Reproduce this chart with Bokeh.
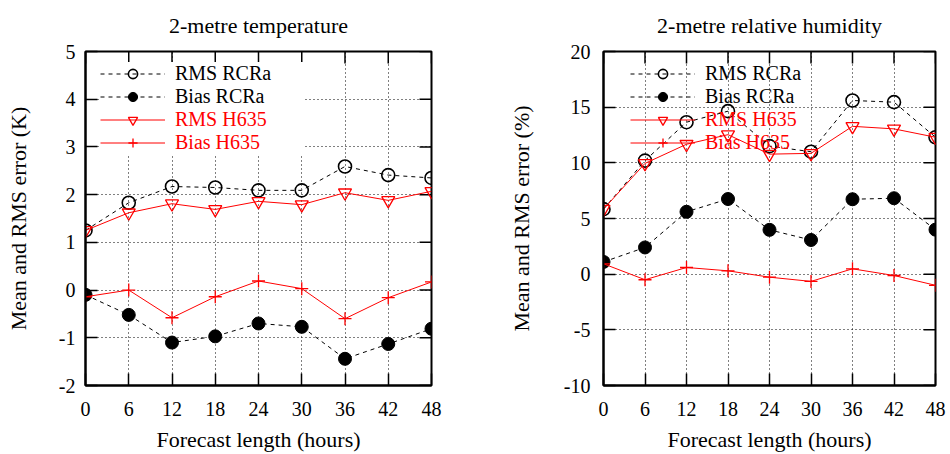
import math
from bokeh.plotting import figure
from bokeh.models import Range1d, FixedTicker, Legend, LegendItem
from bokeh.layouts import row
from bokeh.embed import file_html
from bokeh.resources import INLINE

# ---------------- data ----------------
hours = [0, 6, 12, 18, 24, 30, 36, 42, 48]
x_ticks = [0, 6, 12, 18, 24, 30, 36, 42, 48]
x_tick_labels = ["0", "6", "12", "18", "24", "30", "36", "42", "48"]
t2m_y_ticks = [-2, -1, 0, 1, 2, 3, 4, 5]
t2m_y_tick_labels = ["-2", "-1", "0", "1", "2", "3", "4", "5"]
rh_y_ticks = [-10, -5, 0, 5, 10, 15, 20]
rh_y_tick_labels = ["-10", "-5", "0", "5", "10", "15", "20"]

t2m_rms_rcra = [1.25, 1.83, 2.17, 2.15, 2.09, 2.09, 2.59, 2.41, 2.35]
t2m_bias_rcra = [-0.10, -0.52, -1.10, -0.97, -0.70, -0.77, -1.44, -1.13, -0.81]
t2m_rms_h635 = [1.25, 1.62, 1.81, 1.69, 1.86, 1.79, 2.04, 1.88, 2.07]
t2m_bias_h635 = [-0.14, 0.00, -0.58, -0.14, 0.19, 0.03, -0.60, -0.16, 0.17]

rh_rms_rcra = [5.84, 10.2, 13.65, 14.64, 11.5, 11.0, 15.6, 15.45, 12.3]
rh_bias_rcra = [1.10, 2.40, 5.60, 6.75, 3.98, 3.07, 6.73, 6.82, 4.00]
rh_rms_h635 = [5.84, 9.95, 11.67, 12.53, 10.78, 10.85, 13.28, 13.05, 12.3]
rh_bias_h635 = [0.93, -0.50, 0.60, 0.30, -0.27, -0.65, 0.48, -0.12, -1.00]

series_names = ["RMS RCRa", "Bias RCRa", "RMS H635", "Bias H635"]

FONT = "'Liberation Serif'"
RED = "#ff0000"


def style_axis(ax, ticks, labels, standoff, label_standoff):
    ax.ticker = FixedTicker(ticks=ticks)
    ax.major_label_overrides = dict(zip(ticks, labels))
    ax.axis_line_color = "black"
    ax.axis_line_width = 2
    ax.major_tick_in = 12
    ax.major_tick_out = 0
    ax.major_tick_line_width = 1.5
    ax.minor_tick_line_color = None
    ax.major_label_text_font = FONT
    ax.major_label_text_color = "black"
    ax.major_label_text_font_size = "20px"
    ax.major_label_standoff = standoff
    ax.axis_label_text_font = FONT
    ax.axis_label_text_font_size = "22px"
    ax.axis_label_text_font_style = "normal"
    ax.axis_label_text_color = "black"
    ax.axis_label_standoff = label_standoff


def make_panel(title, ylabel, y0, y1, yticks, ylabels, rms_rcra, bias_rcra, rms_h635, bias_h635,
               border_left, border_right, ytick_standoff, ylabel_standoff, legend_x, opaque_key):
    p = figure(width=475, height=454, output_backend="svg", toolbar_location=None,
               x_range=Range1d(0, 48), y_range=Range1d(y0, y1),
               min_border_left=border_left, min_border_right=border_right,
               min_border_top=51, min_border_bottom=67,
               x_axis_label="Forecast length (hours)", y_axis_label=ylabel,
               title=title)
    p.title.text_font = FONT
    p.title.text_font_size = "22px"
    p.title.text_font_style = "normal"
    p.title.align = "center"
    p.title.vertical_align = "top"
    p.title.standoff = 24
    p.title.text_color = "black"
    p.outline_line_color = "black"
    p.outline_line_width = 2
    p.background_fill_color = "white"
    p.border_fill_color = "white"

    style_axis(p.below[0], x_ticks, x_tick_labels, 16, 8)
    style_axis(p.left[0], yticks, ylabels, ytick_standoff, ylabel_standoff)

    for g in p.grid:
        g.grid_line_color = "black"
        g.grid_line_dash = "1 3"
        g.grid_line_width = 1
    p.xgrid.ticker = FixedTicker(ticks=x_ticks)
    p.ygrid.ticker = FixedTicker(ticks=yticks)

    # mirrored inward ticks on the top and right borders
    p.ray(x=x_ticks, y=[y1] * len(x_ticks), length=12, length_units="screen",
          angle=-math.pi / 2, line_color="black", line_width=1.5)
    p.ray(x=[48] * len(yticks), y=yticks, length=12, length_units="screen",
          angle=math.pi, line_color="black", line_width=1.5)

    l1 = p.line(hours, rms_rcra, line_color="black", line_width=1, line_dash="4 4")
    s1 = p.scatter(hours, rms_rcra, marker="circle", size=13, fill_color=None,
                   line_color="black", line_width=1.6)
    l2 = p.line(hours, bias_rcra, line_color="black", line_width=1, line_dash="4 4")
    s2 = p.scatter(hours, bias_rcra, marker="circle", size=13, fill_color="black",
                   line_color="black", line_width=1)
    l3 = p.line(hours, rms_h635, line_color=RED, line_width=1)
    s3 = p.scatter(hours, rms_h635, marker="inverted_triangle", size=13, fill_color=None,
                   line_color=RED, line_width=1.3)
    l4 = p.line(hours, bias_h635, line_color=RED, line_width=1)
    s4 = p.scatter(hours, bias_h635, marker="cross", size=13, line_color=RED, line_width=1.3)

    def legend(items, color, y):
        lg = Legend(items=items, location=(legend_x, y))
        lg.label_text_font = FONT
        lg.label_text_font_size = "20px"
        lg.label_text_color = color
        lg.glyph_width = 65
        lg.glyph_height = 23
        lg.label_height = 23
        lg.label_width = 128
        lg.label_standoff = 10
        lg.padding = 0
        lg.margin = 0
        lg.spacing = 0
        lg.border_line_alpha = 0
        lg.background_fill_color = "white"
        lg.background_fill_alpha = 1 if opaque_key else 0
        return lg

    lg1 = legend([LegendItem(label=series_names[0], renderers=[l1, s1]),
                  LegendItem(label=series_names[1], renderers=[l2, s2])], "black", 277)
    lg2 = legend([LegendItem(label=series_names[2], renderers=[l3, s3]),
                  LegendItem(label=series_names[3], renderers=[l4, s4])], RED, 231)
    p.add_layout(lg1, "center")
    p.add_layout(lg2, "center")
    return p


p1 = make_panel("2-metre temperature", "Mean and RMS error (K)", -2, 5,
                t2m_y_ticks, t2m_y_tick_labels,
                t2m_rms_rcra, t2m_bias_rcra, t2m_rms_h635, t2m_bias_h635,
                85, 44, 10, 25, 15, True)
p2 = make_panel("2-metre relative humidity", "Mean and RMS error (%)", -10, 20,
                rh_y_ticks, rh_y_tick_labels,
                rh_rms_rcra, rh_bias_rcra, rh_rms_h635, rh_bias_h635,
                128, 15, 13, 27, 27, False)

layout = row(p1, p2)
open("out.html", "w").write(file_html(layout, INLINE))
